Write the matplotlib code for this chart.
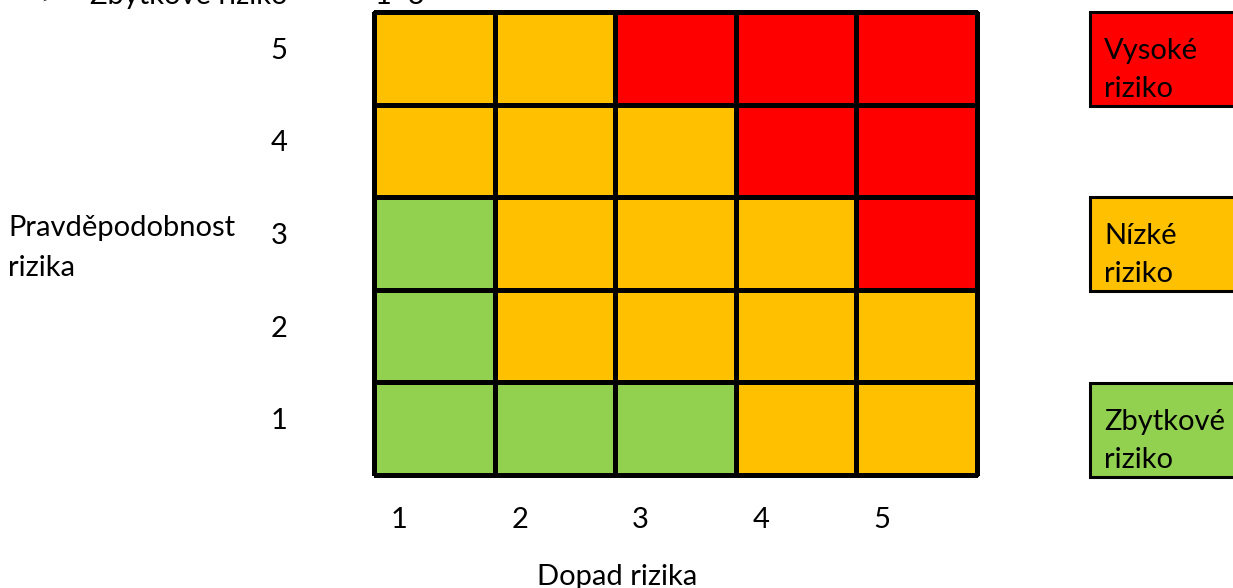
import numpy as np
import matplotlib.pyplot as plt
from matplotlib.colors import ListedColormap
from matplotlib.patches import Rectangle

plt.rcParams['font.family'] = ['Lato', 'DejaVu Sans']

# data
dopad = [1, 2, 3, 4, 5]
pravdepodobnost = [1, 2, 3, 4, 5]
# úroveň rizika: 0 = zbytkové, 1 = nízké, 2 = vysoké (řádky od pravděpodobnosti 1)
uroven = [
    [0, 0, 0, 1, 1],
    [0, 1, 1, 1, 1],
    [0, 1, 1, 1, 2],
    [1, 1, 1, 2, 2],
    [1, 1, 2, 2, 2],
]
barvy = ['#92D050', '#FFC000', '#FF0000']
legenda = [['Zbytkové', 'riziko'], ['Nízké', 'riziko'], ['Vysoké', 'riziko']]

W, H = 1233, 588
FS = 21
fig = plt.figure(figsize=(W / 100, H / 100), dpi=100)

# matice rizik
ax = fig.add_axes([374 / W, (H - 475) / H, 603 / W, 463 / H])
xe = np.arange(len(dopad) + 1) + 0.5
ye = np.arange(len(pravdepodobnost) + 1) + 0.5
mesh = ax.pcolormesh(xe, ye, np.array(uroven), cmap=ListedColormap(barvy),
                     vmin=-0.5, vmax=2.5, edgecolors='black', linewidth=2.2)
mesh.set_clip_on(False)
ax.set_xlim(0.5, 5.5)
ax.set_ylim(0.5, 5.5)
ax.axis('off')

for d in dopad:
    ax.text(d - 0.36, -0.097, str(d), transform=ax.get_xaxis_transform(),
            fontsize=FS, ha='left', va='center')
for p in pravdepodobnost:
    ax.text(-0.172, p + 0.08, str(p), transform=ax.get_yaxis_transform(),
            fontsize=FS, ha='left', va='center')

# popisky a legenda v pixelech
ov = fig.add_axes([0, 0, 1, 1])
ov.set_xlim(0, W)
ov.set_ylim(H, 0)
ov.axis('off')

ov.text(40, 4, '➢', fontsize=FS, va='baseline', family=['DejaVu Sans'])
ov.text(90, 4, 'Zbytkové riziko', fontsize=FS, va='baseline')
ov.text(375, 4, '1–3', fontsize=FS, va='baseline')

ov.text(8, 228, 'Pravděpodobnost', fontsize=FS, ha='left', va='center')
ov.text(8, 268, 'rizika', fontsize=FS, ha='left', va='center')
ov.text(617, 577, 'Dopad rizika', fontsize=FS, ha='center', va='center')

tops = [383, 197, 12]
for barva, radky, top in zip(barvy, legenda, tops):
    ov.add_patch(Rectangle((1090, top), 170, 94, facecolor=barva,
                           edgecolor='black', linewidth=2.2))
    ov.text(1104, top + 39, radky[0], fontsize=FS, ha='left', va='center')
    ov.text(1104, top + 77, radky[1], fontsize=FS, ha='left', va='center')

fig.savefig('out.png', dpi=100)
